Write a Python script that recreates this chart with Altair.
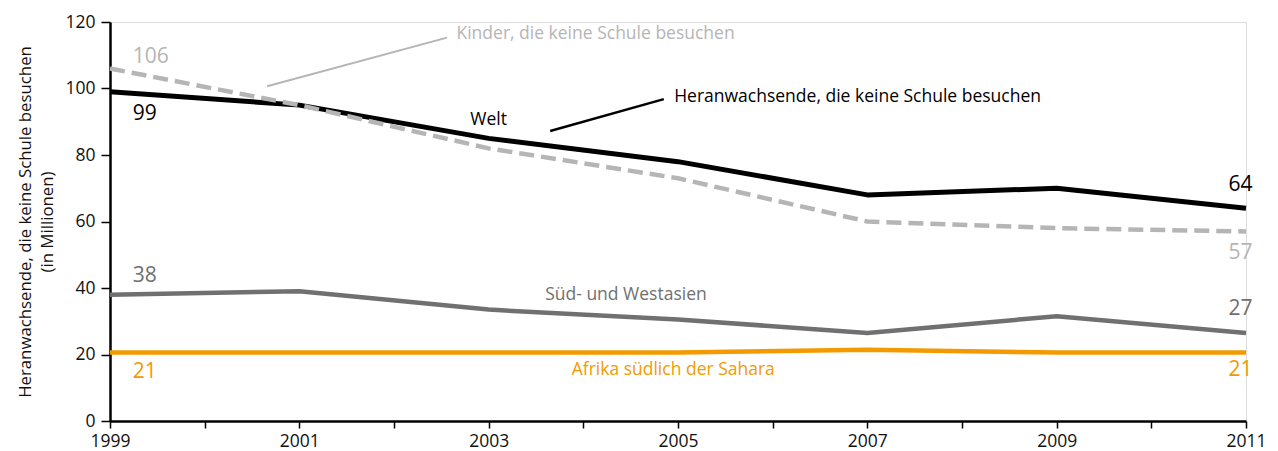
import altair as alt
import pandas as pd

years = [1999, 2001, 2003, 2005, 2007, 2009, 2011]
welt = [99, 95, 85, 78, 68, 70, 64]
kinder = [106, 95, 82, 73, 60, 58, 57]
sued_west = [38, 39, 33.5, 30.5, 26.5, 31.5, 26.5]
afrika = [20.6, 20.6, 20.6, 20.6, 21.4, 20.6, 20.6]

series_names = ["Welt", "Kinder", "Süd- und Westasien", "Afrika südlich der Sahara"]
series_vals = [welt, kinder, sued_west, afrika]
colors = ["#000000", "#b5b5b5", "#707070", "#f39a00"]

rows = []
for name, vals in zip(series_names, series_vals):
    for y, v in zip(years, vals):
        rows.append({"year": y, "value": v, "series": name})
df = pd.DataFrame(rows)

FONT = "Open Sans"

x_scale = alt.Scale(domain=[1999, 2011], nice=False, zero=False)
y_scale = alt.Scale(domain=[0, 120], nice=False)

x_axis = alt.Axis(
    values=list(range(1999, 2012)),
    labelExpr="datum.value % 2 == 1 ? datum.value : ''",
    grid=False, domainColor="#000", domainWidth=2.5, tickColor="#000",
    tickWidth=1.5, tickSize=7, labelFontSize=17.5, labelColor="#111",
    labelFont=FONT, labelPadding=4, title=None, labelFlush=False,
    labelOverlap=False,
)
y_axis = alt.Axis(
    values=[0, 20, 40, 60, 80, 100, 120], grid=False, domainColor="#000",
    domainWidth=2.5, tickColor="#000", tickWidth=1.5, tickSize=9,
    labelFontSize=17.5, labelColor="#111", labelFont=FONT, labelPadding=6,
    title=["Heranwachsende, die keine Schule besuchen", "(in Millionen)"],
    titleFont=FONT, titleFontSize=16.8, titleFontWeight="normal",
    titleColor="#111", titlePadding=8, titleLineHeight=22,
)

base = alt.Chart(df).encode(
    x=alt.X("year:Q", scale=x_scale, axis=x_axis),
    y=alt.Y("value:Q", scale=y_scale, axis=y_axis),
)

def line(name, color, width, dash=None):
    kw = dict(color=color, strokeWidth=width, strokeJoin="round", strokeCap="butt")
    if dash:
        kw["strokeDash"] = dash
    return base.transform_filter(alt.datum.series == name).mark_line(**kw)

lines = [
    line("Afrika südlich der Sahara", colors[3], 4.5),
    line("Süd- und Westasien", colors[2], 4.5),
    line("Welt", colors[0], 5),
    line("Kinder", colors[1], 4.5, [15, 7]),
]

# Annotation texts (positions in data units)
ann_text = ["Kinder, die keine Schule besuchen", "Heranwachsende, die keine Schule besuchen",
            "Welt", "Süd- und Westasien", "Afrika südlich der Sahara"]
ann_x = [2002.66, 2004.96, 2003.0, 2004.45, 2004.95]
ann_y = [116.4, 97.4, 90.5, 37.9, 15.3]
ann_align = ["left", "left", "center", "center", "center"]
ann_color = ["#b5b5b5", "#000000", "#000000", "#707070", "#f39a00"]

ann_df = pd.DataFrame({"t": ann_text, "year": ann_x, "value": ann_y})

ann_layers = []
for i in range(len(ann_text)):
    ann_layers.append(
        alt.Chart(ann_df.iloc[[i]]).mark_text(
            align=ann_align[i], baseline="middle", fontSize=17.5, font=FONT,
            color=ann_color[i],
        ).encode(x=alt.X("year:Q", scale=x_scale), y=alt.Y("value:Q", scale=y_scale), text="t:N")
    )

# Value labels
val_text = ["106", "99", "38", "21", "64", "57", "27", "21"]
val_x = [1999.24, 1999.24, 1999.24, 1999.24, 2011.07, 2011.07, 2011.07, 2011.07]
val_y = [109.5, 92.2, 43.6, 14.8, 71.0, 50.5, 33.8, 15.3]
val_color = ["#b5b5b5", "#000000", "#707070", "#f39a00", "#000000", "#b5b5b5", "#707070", "#f39a00"]
val_align = ["left"] * 4 + ["right"] * 4
val_df = pd.DataFrame({"t": val_text, "year": val_x, "value": val_y})
val_layers = []
for i in range(len(val_text)):
    val_layers.append(
        alt.Chart(val_df.iloc[[i]]).mark_text(
            align=val_align[i], baseline="middle", fontSize=21, font=FONT,
            color=val_color[i],
        ).encode(x=alt.X("year:Q", scale=x_scale), y=alt.Y("value:Q", scale=y_scale), text="t:N")
    )

# Leader lines
lead_df = pd.DataFrame({
    "x1": [2000.66, 2003.65], "y1": [100.7, 87.2],
    "x2": [2002.56, 2004.85], "y2": [115.3, 96.8],
})
lead_color = ["#b5b5b5", "#000000"]
lead_width = [2, 2.5]
leaders = []
for i in range(2):
    leaders.append(
        alt.Chart(lead_df.iloc[[i]]).mark_rule(
            color=lead_color[i], strokeWidth=lead_width[i]
        ).encode(
            x=alt.X("x1:Q", scale=x_scale), y=alt.Y("y1:Q", scale=y_scale),
            x2="x2:Q", y2="y2:Q",
        )
    )

chart = alt.layer(*lines, *leaders, *ann_layers, *val_layers).properties(
    width=1136, height=399,
    autosize=alt.AutoSizeParams(type="none"),
    padding={"left": 102, "top": 14, "right": 22, "bottom": 29},
).configure_view(stroke=None).configure(background="white")

chart.save("out.html", embed_options={"renderer": "svg", "actions": False})
